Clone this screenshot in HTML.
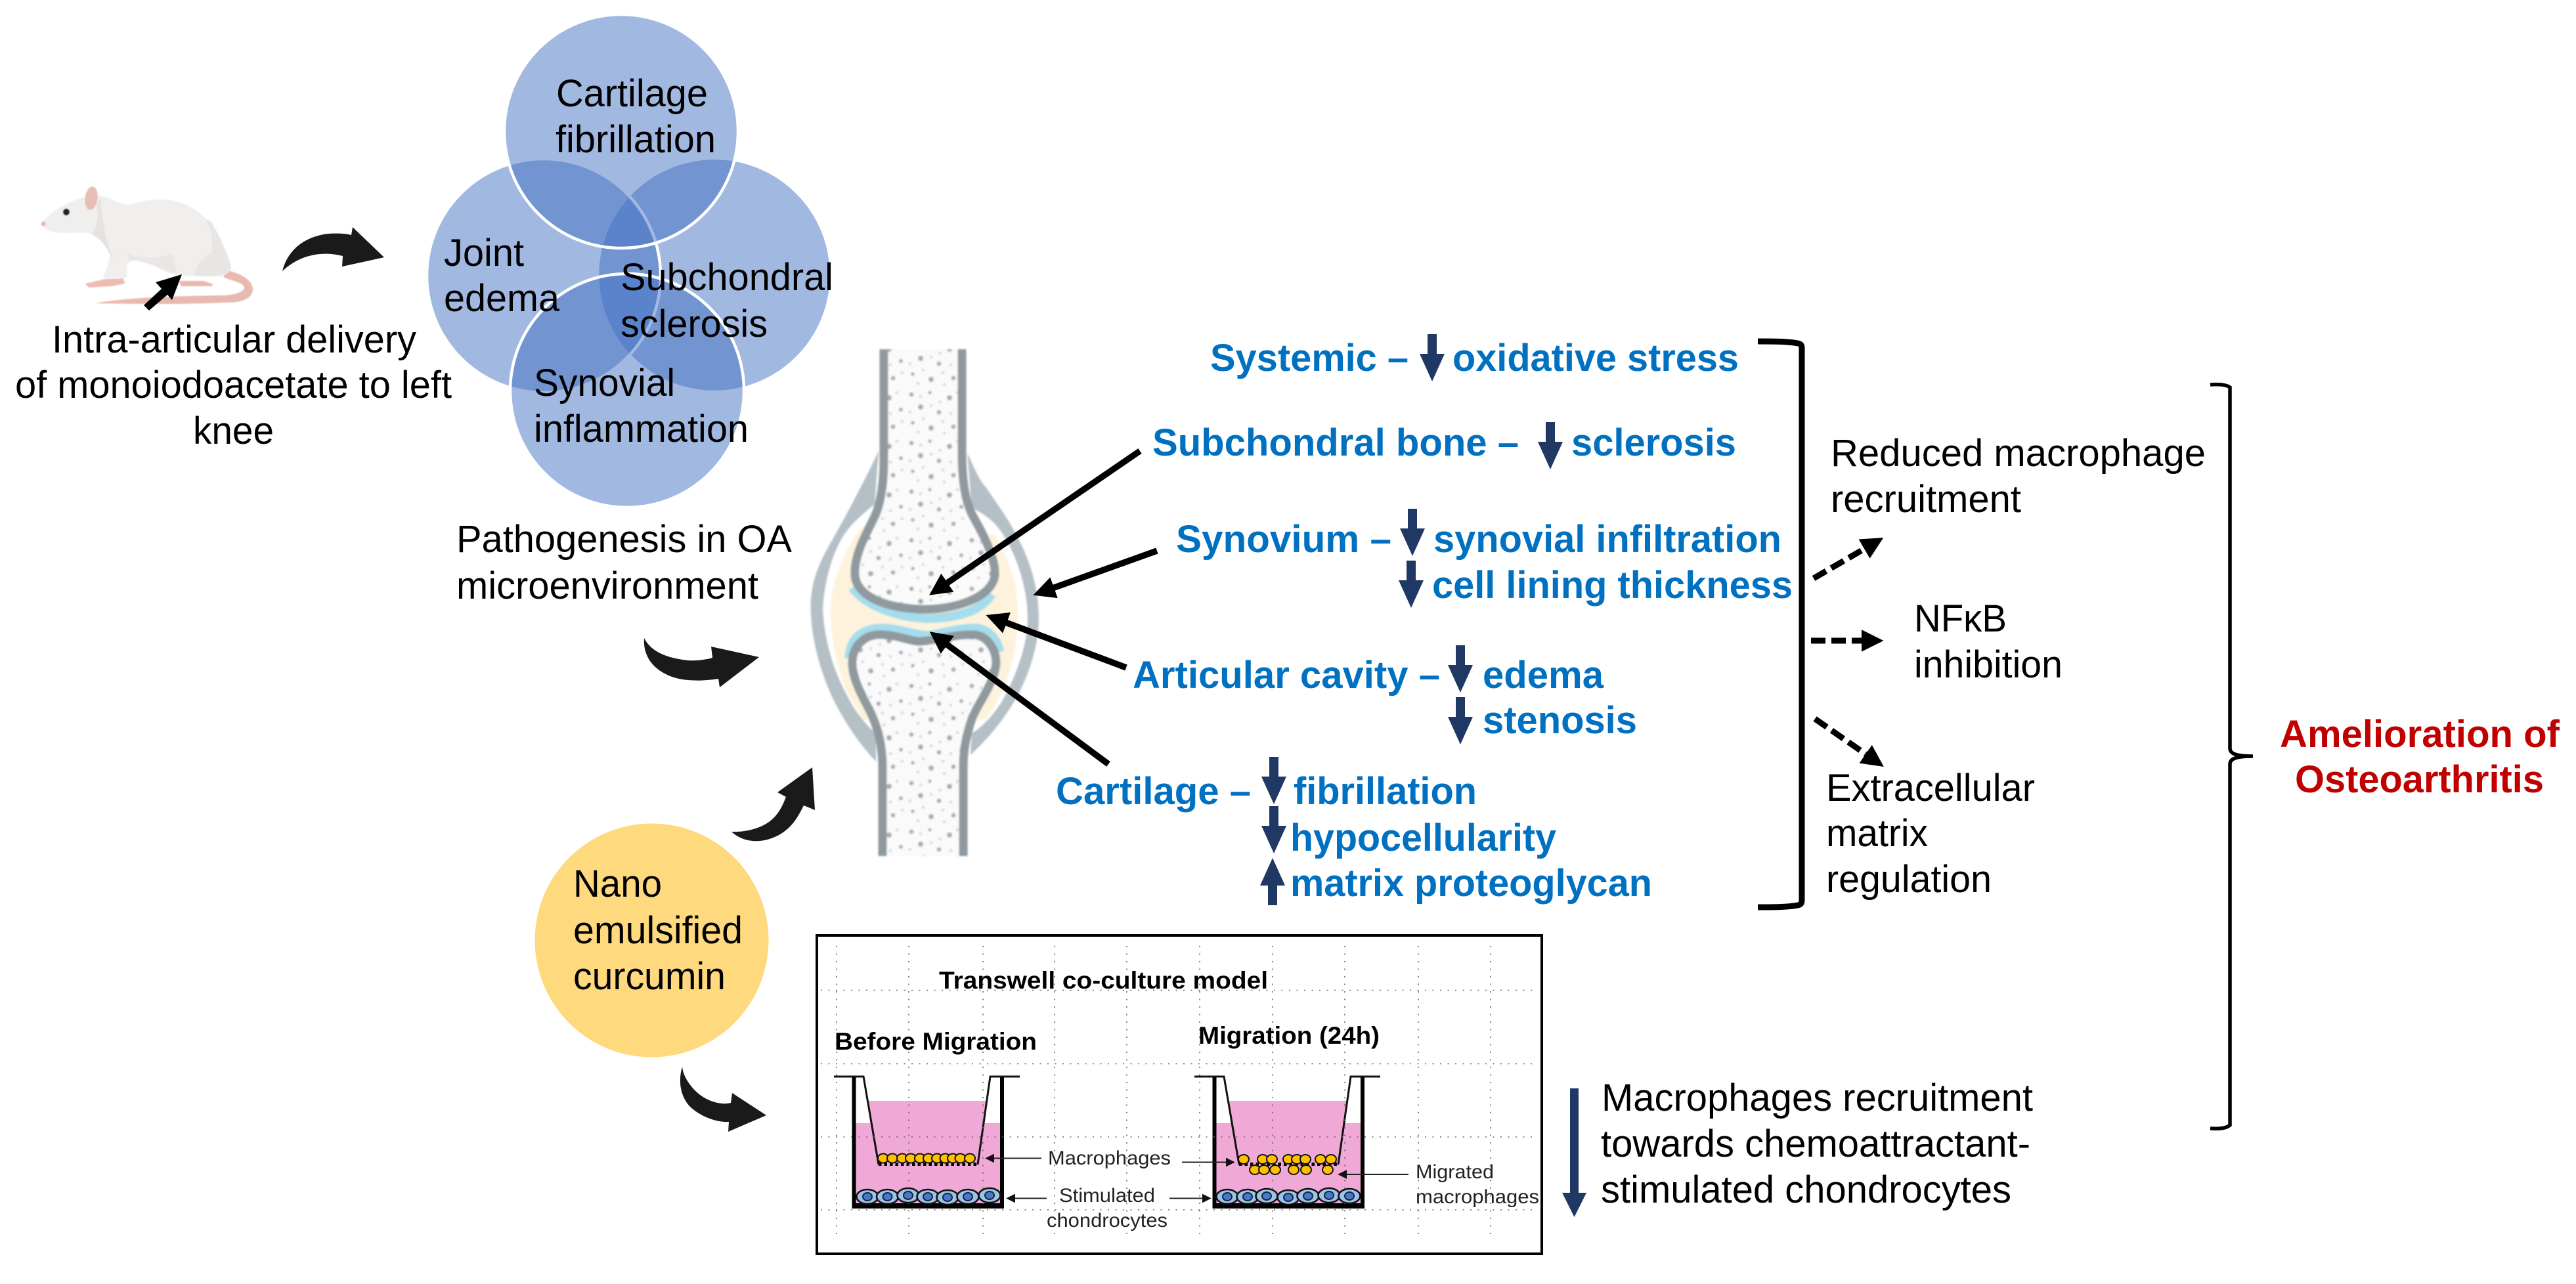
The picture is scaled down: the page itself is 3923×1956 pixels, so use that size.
<!DOCTYPE html>
<html>
<head>
<meta charset="utf-8">
<title>Amelioration of Osteoarthritis</title>
<style>
html,body{margin:0;padding:0;background:#fff;}
svg{display:block;}
text{font-family:"Liberation Sans",Arial,sans-serif;}
.k{font-size:58px;fill:#000;}
.b{font-size:58px;font-weight:bold;fill:#0070C0;}
.r{font-size:58px;font-weight:bold;fill:#C00000;}
.s{font-size:30px;fill:#222;}
.t{font-size:37px;font-weight:bold;fill:#000;}
</style>
</head>
<body>
<svg xmlns="http://www.w3.org/2000/svg" width="3923" height="1956" viewBox="0 0 3923 1956">
<defs>
<marker id="h" markerUnits="userSpaceOnUse" markerWidth="36" markerHeight="36" refX="2" refY="15" orient="auto" viewBox="0 0 32 30"><path d="M0 0L30 15L0 30Z" fill="#000"/></marker>
<marker id="hs" markerUnits="userSpaceOnUse" markerWidth="14" markerHeight="14" refX="1" refY="6" orient="auto" viewBox="0 0 12 12"><path d="M0 0L12 6L0 12Z" fill="#111"/></marker>
<path id="da" d="M-7 0H7V30H19L0 72L-19 30H-7Z" fill="#1F3864"/>
<pattern id="sp" width="92" height="74" patternUnits="userSpaceOnUse">
<rect width="92" height="74" fill="#FAFAFB"/>
<g fill="#A9AEB0">
<circle cx="8" cy="9" r="3.4"/><circle cx="36" cy="6" r="2.6"/><circle cx="66" cy="14" r="4"/><circle cx="84" cy="32" r="3"/><circle cx="22" cy="28" r="4"/><circle cx="50" cy="36" r="3.4"/><circle cx="10" cy="52" r="2.8"/><circle cx="38" cy="60" r="4"/><circle cx="72" cy="58" r="3.4"/>
</g>
<g fill="#CDD0D2">
<circle cx="22" cy="12" r="2"/><circle cx="52" cy="20" r="2"/><circle cx="78" cy="6" r="2"/><circle cx="38" cy="26" r="2"/><circle cx="68" cy="38" r="2"/><circle cx="6" cy="36" r="2"/><circle cx="26" cy="46" r="2"/><circle cx="56" cy="50" r="2"/><circle cx="86" cy="50" r="2"/><circle cx="58" cy="68" r="2"/><circle cx="18" cy="66" r="2"/>
</g>
</pattern>
<filter id="bl" x="-5%" y="-5%" width="110%" height="110%"><feGaussianBlur stdDeviation="1.3"/></filter>
<filter id="bl2" x="-5%" y="-5%" width="110%" height="110%"><feGaussianBlur stdDeviation="0.8"/></filter>
<g id="well">
<rect x="1302" y="1711" width="223" height="125" fill="#F0A8D6"/>
<path d="M1322 1677H1503L1500 1711H1325Z" fill="#F0A8D6"/>
<path d="M1300.5 1640V1838H1526V1640" fill="none" stroke="#000" stroke-width="6"/>
<rect x="1299" y="1833" width="229" height="7" fill="#000"/>
<path d="M1270 1640H1315L1338 1774M1553 1640H1508L1489 1774" fill="none" stroke="#111" stroke-width="3"/>
<path d="M1338 1773.5H1489" stroke="#000" stroke-width="5" stroke-dasharray="4.5 4" fill="none"/>
</g>
<g id="c"><ellipse rx="16.5" ry="11" fill="#9DC3E6" stroke="#111" stroke-width="2.6"/><ellipse rx="7" ry="6" fill="#4A78C8" stroke="#14233f" stroke-width="2"/></g>
<ellipse id="m" rx="8" ry="7" fill="#FFC000" stroke="#111" stroke-width="2"/>
</defs>

<rect width="3923" height="1956" fill="#fff"/>

<!-- Rat -->
<g filter="url(#bl2)">
<path d="M347 412C372 418 386 430 385 442C382 458 365 461 340 461C280 464 210 463 145 462C200 452 280 451 340 450C360 449 372 444 372 438C371 430 352 428 340 422Z" fill="#E8B9AF"/>
<path d="M273 428H310L325 433L322 436H275Z" fill="#E8B9AF"/>
<path d="M130 432L160 425L188 424L190 432L170 436L135 438Z" fill="#EDBDB2"/>
<path d="M64 340C75 325 95 312 115 305C125 300 140 298 153 298C170 302 182 312 197 312C215 306 235 303 255 304C285 308 310 325 325 347C338 367 348 390 352 407C350 418 340 421 320 421L280 420C265 420 256 415 245 410C235 403 225 399 210 397C200 396 194 400 193 407L193 423L157 423C162 410 168 398 167 387C160 372 150 362 140 357C125 352 107 356 92 355C78 354 66 350 64 340Z" fill="#F1EEEE"/>
<path d="M322 338C336 362 348 390 352 407C350 418 340 421 320 421L296 420C300 405 302 395 322 385C325 365 322 350 312 333Z" fill="#E8E5E4"/>
<path d="M140 357C150 362 160 372 167 387L172 392C162 370 156 340 153 300L147 312C151 330 148 345 140 357Z" fill="#E5E2E1"/>
<path d="M195 385C215 395 245 395 262 385L270 418L250 412C230 402 215 397 195 396Z" fill="#E9E6E5"/>
<ellipse cx="139" cy="302" rx="9.5" ry="18" fill="#E8BDB5" transform="rotate(8 139 302)"/>
<circle cx="101" cy="323" r="5.2" fill="#222"/>
<circle cx="66" cy="341" r="3.5" fill="#E9B5AC"/>
</g>
<path d="M277 418L262 457L255 449L227 473L219 465L246 440L237 430Z" fill="#000"/>

<!-- Swooshes -->
<g fill="#1A1A1A">
<path d="M430 413C438 380 465 360 500 356C515 355 528 356 535 358L537 346L585 392L521 406L522 390C495 383 460 385 430 413Z"/>
<path d="M981 972C990 990 1010 1002 1048 1006C1060 1007 1075 1005 1085 1002L1083 985L1156 1001L1096 1047L1094 1034C1075 1037 1060 1037 1048 1036C1010 1033 978 1010 981 972Z"/>
<path d="M1114 1267C1135 1268 1165 1262 1181 1243C1190 1232 1193 1224 1197 1214L1184 1207L1237 1169L1241 1234L1224 1227C1215 1245 1205 1264 1180 1275C1155 1286 1130 1282 1114 1267Z"/>
<path d="M1039 1625C1040 1640 1055 1665 1080 1676C1095 1682 1105 1682 1113 1680L1115 1665L1167 1699L1109 1724L1110 1709C1090 1710 1065 1700 1050 1685C1035 1668 1033 1645 1039 1625Z"/>
</g>

<!-- Venn circles -->
<g stroke="#fff" stroke-width="4.5">
<circle cx="1088" cy="419" r="178" fill="#4472C4" fill-opacity=".5"/>
<circle cx="828" cy="420" r="178" fill="#4472C4" fill-opacity=".5"/>
<circle cx="946" cy="200" r="178" fill="#4472C4" fill-opacity=".5"/>
<circle cx="955" cy="595" r="178" fill="#4472C4" fill-opacity=".5"/>
</g>

<!-- Nano circle -->
<circle cx="992.5" cy="1432.5" r="178" fill="#FFD97D"/>

<!-- Joint -->
<g filter="url(#bl)">
<path d="M1310 805C1280 850 1265 890 1265 930C1265 975 1275 1020 1290 1055L1315 1097H1500C1530 1060 1550 1000 1550 935C1550 885 1535 850 1515 815Z" fill="#FDF3DD"/>
<g fill="#B4BFC6">
<path d="M1338 687C1325 715 1300 765 1265 827C1240 870 1233 900 1235 935C1237 985 1255 1040 1275 1077C1290 1105 1310 1135 1334 1160L1334 1118C1315 1100 1300 1080 1292 1063C1270 1025 1255 975 1253 927C1255 890 1265 850 1282 820C1295 798 1312 785 1332 768Z"/>
<path d="M1473 690C1485 715 1490 730 1502 743C1520 770 1535 790 1545 810C1565 845 1582 890 1582 943C1582 985 1565 1035 1542 1073C1525 1100 1505 1125 1478 1150L1480 1117C1500 1105 1515 1085 1525 1070C1545 1035 1565 985 1565 943C1565 890 1545 840 1525 810C1510 790 1500 785 1480 773Z"/>
</g>
<path d="M1298 895C1320 925 1370 940 1410 942C1460 942 1495 930 1510 905" fill="none" stroke="#A6DDEC" stroke-width="14"/>
<path d="M1293 1003C1295 970 1315 957 1345 957C1370 958 1395 968 1412 968C1430 968 1450 957 1485 957C1505 958 1520 975 1522 993" fill="none" stroke="#A6DDEC" stroke-width="14"/>
<path d="M1346 532V700C1346 735 1342 760 1335 780C1325 805 1300 840 1302 877C1305 905 1340 925 1400 928C1450 930 1510 912 1515 877C1517 850 1495 810 1482 787C1470 765 1466 735 1465 700V532Z" fill="url(#sp)"/>
<path d="M1346 532V700C1346 735 1342 760 1335 780C1325 805 1300 840 1302 877C1305 905 1340 925 1400 928C1450 930 1510 912 1515 877C1517 850 1495 810 1482 787C1470 765 1466 735 1465 700V532" fill="none" stroke="#8F999E" stroke-width="13"/>
<path d="M1344 1304V1170C1344 1130 1335 1100 1318 1070C1305 1045 1297 1025 1298 1007C1300 980 1320 965 1345 967C1370 968 1385 977 1400 977C1420 977 1450 966 1485 967C1505 970 1517 990 1517 1010C1515 1040 1490 1070 1480 1095C1470 1125 1467 1145 1467 1170V1304Z" fill="url(#sp)"/>
<path d="M1344 1304V1170C1344 1130 1335 1100 1318 1070C1305 1045 1297 1025 1298 1007C1300 980 1320 965 1345 967C1370 968 1385 977 1400 977C1420 977 1450 966 1485 967C1505 970 1517 990 1517 1010C1515 1040 1490 1070 1480 1095C1470 1125 1467 1145 1467 1170V1304" fill="none" stroke="#8F999E" stroke-width="13"/>
</g>

<!-- Pointer arrows -->
<g stroke="#000" stroke-width="9.5" fill="none">
<path d="M1736 687L1441 889" marker-end="url(#h)"/>
<path d="M1762 839L1603 896" marker-end="url(#h)"/>
<path d="M1715 1017L1531 948" marker-end="url(#h)"/>
<path d="M1688 1164L1441 981" marker-end="url(#h)"/>
</g>

<!-- Dark-blue arrows -->
<use href="#da" transform="translate(2181 509)"/>
<use href="#da" transform="translate(2361 643)"/>
<use href="#da" transform="translate(2151 775)"/>
<use href="#da" transform="translate(2149 854)"/>
<use href="#da" transform="translate(2224 983)"/>
<use href="#da" transform="translate(2224 1062)"/>
<use href="#da" transform="translate(1940 1153)"/>
<use href="#da" transform="translate(1940 1228)"/>
<use href="#da" transform="translate(1938 1379) scale(1 -1)"/>
<path d="M2391 1658H2404V1817H2416L2397.5 1854L2379 1817H2391Z" fill="#1F3864"/>

<!-- Brackets -->
<path d="M2677 520C2700 520 2722 520 2738 523C2743 524 2744 526 2744 531V1370C2744 1376 2743 1378 2738 1379C2722 1382 2700 1382 2677 1382" fill="none" stroke="#000" stroke-width="9"/>
<path d="M3366 586C3380 585 3390 586 3396 590V1140C3396 1148 3405 1152 3431 1152C3405 1152 3396 1156 3396 1164V1714C3390 1719 3380 1720 3366 1719" fill="none" stroke="#000" stroke-width="5.5"/>

<!-- Dashed arrows -->
<g stroke="#000" stroke-width="9" fill="none" stroke-dasharray="22 9">
<path d="M2762 881L2841 835" marker-end="url(#h)"/>
<path d="M2758 976L2837 976" marker-end="url(#h)"/>
<path d="M2764 1095L2843 1150" marker-end="url(#h)"/>
</g>

<!-- Black text -->
<text class="k" x="79" y="537" textLength="555" lengthAdjust="spacingAndGlyphs">Intra-articular delivery</text>
<text class="k" x="23" y="606" textLength="665" lengthAdjust="spacingAndGlyphs">of monoiodoacetate to left</text>
<text class="k" x="294" y="676" textLength="123" lengthAdjust="spacingAndGlyphs">knee</text>
<text class="k" x="847" y="162" textLength="231" lengthAdjust="spacingAndGlyphs">Cartilage</text>
<text class="k" x="846" y="232" textLength="244" lengthAdjust="spacingAndGlyphs">fibrillation</text>
<text class="k" x="676" y="405" textLength="122" lengthAdjust="spacingAndGlyphs">Joint</text>
<text class="k" x="676" y="474" textLength="176" lengthAdjust="spacingAndGlyphs">edema</text>
<text class="k" x="945" y="442" textLength="324" lengthAdjust="spacingAndGlyphs">Subchondral</text>
<text class="k" x="945" y="513" textLength="224" lengthAdjust="spacingAndGlyphs">sclerosis</text>
<text class="k" x="813" y="603" textLength="215" lengthAdjust="spacingAndGlyphs">Synovial</text>
<text class="k" x="813" y="673" textLength="327" lengthAdjust="spacingAndGlyphs">inflammation</text>
<text class="k" x="695" y="841" textLength="511" lengthAdjust="spacingAndGlyphs">Pathogenesis in OA</text>
<text class="k" x="695" y="912" textLength="460" lengthAdjust="spacingAndGlyphs">microenvironment</text>
<text class="k" x="873" y="1366" textLength="135" lengthAdjust="spacingAndGlyphs">Nano</text>
<text class="k" x="873" y="1437" textLength="258" lengthAdjust="spacingAndGlyphs">emulsified</text>
<text class="k" x="873" y="1507" textLength="232" lengthAdjust="spacingAndGlyphs">curcumin</text>
<text class="k" x="2788" y="710" textLength="571" lengthAdjust="spacingAndGlyphs">Reduced macrophage</text>
<text class="k" x="2788" y="780" textLength="290" lengthAdjust="spacingAndGlyphs">recruitment</text>
<text class="k" x="2915" y="962" textLength="141" lengthAdjust="spacingAndGlyphs">NFκB</text>
<text class="k" x="2915" y="1032" textLength="226" lengthAdjust="spacingAndGlyphs">inhibition</text>
<text class="k" x="2781" y="1220" textLength="318" lengthAdjust="spacingAndGlyphs">Extracellular</text>
<text class="k" x="2781" y="1289" textLength="155" lengthAdjust="spacingAndGlyphs">matrix</text>
<text class="k" x="2781" y="1359" textLength="252" lengthAdjust="spacingAndGlyphs">regulation</text>
<text class="k" x="2439" y="1692" textLength="657" lengthAdjust="spacingAndGlyphs">Macrophages recruitment</text>
<text class="k" x="2438" y="1762" textLength="654" lengthAdjust="spacingAndGlyphs">towards chemoattractant-</text>
<text class="k" x="2438" y="1832" textLength="625" lengthAdjust="spacingAndGlyphs">stimulated chondrocytes</text>

<!-- Blue text -->
<text class="b" x="1843" y="565" textLength="302" lengthAdjust="spacingAndGlyphs">Systemic –</text>
<text class="b" x="2212" y="565" textLength="436" lengthAdjust="spacingAndGlyphs">oxidative stress</text>
<text class="b" x="1755" y="694" textLength="558" lengthAdjust="spacingAndGlyphs">Subchondral bone –</text>
<text class="b" x="2393" y="694" textLength="251" lengthAdjust="spacingAndGlyphs">sclerosis</text>
<text class="b" x="1791" y="841" textLength="328" lengthAdjust="spacingAndGlyphs">Synovium –</text>
<text class="b" x="2183" y="841" textLength="530" lengthAdjust="spacingAndGlyphs">synovial infiltration</text>
<text class="b" x="2181" y="911" textLength="549" lengthAdjust="spacingAndGlyphs">cell lining thickness</text>
<text class="b" x="1725" y="1048" textLength="468" lengthAdjust="spacingAndGlyphs">Articular cavity –</text>
<text class="b" x="2258" y="1048" textLength="184" lengthAdjust="spacingAndGlyphs">edema</text>
<text class="b" x="2258" y="1117" textLength="235" lengthAdjust="spacingAndGlyphs">stenosis</text>
<text class="b" x="1608" y="1225" textLength="297" lengthAdjust="spacingAndGlyphs">Cartilage –</text>
<text class="b" x="1970" y="1225" textLength="279" lengthAdjust="spacingAndGlyphs">fibrillation</text>
<text class="b" x="1965" y="1296" textLength="405" lengthAdjust="spacingAndGlyphs">hypocellularity</text>
<text class="b" x="1965" y="1365" textLength="551" lengthAdjust="spacingAndGlyphs">matrix proteoglycan</text>

<!-- Red text -->
<text class="r" x="3472" y="1138" textLength="426" lengthAdjust="spacingAndGlyphs">Amelioration of</text>
<text class="r" x="3495" y="1207" textLength="379" lengthAdjust="spacingAndGlyphs">Osteoarthritis</text>

<!-- Transwell box -->
<rect x="1244" y="1425" width="1104" height="485" fill="#fff" stroke="#000" stroke-width="4"/>
<use href="#well"/>
<use href="#well" transform="translate(549 0)"/>
<g stroke="#666" stroke-width="1.6" stroke-dasharray="2 9.5" fill="none">
<path d="M1274 1441V1888M1384 1441V1888M1497 1441V1888M1606 1441V1888M1716 1441V1888M1827 1441V1888M1938 1441V1888M2048 1441V1888M2160 1441V1888M2270 1441V1888"/>
<path d="M1250 1508.5H2340M1250 1620.5H2340M1250 1732H2340M1250 1843H2340"/>
</g>

<use href="#m" x="1345" y="1764.5"/><use href="#m" x="1359" y="1764.5"/><use href="#m" x="1374" y="1764.5"/><use href="#m" x="1387" y="1764.5"/><use href="#m" x="1401" y="1764.5"/><use href="#m" x="1414" y="1764.5"/><use href="#m" x="1427" y="1764.5"/><use href="#m" x="1439.5" y="1764.5"/><use href="#m" x="1451" y="1764.5"/><use href="#m" x="1462.5" y="1764.5"/><use href="#m" x="1477" y="1764.5"/>
<use href="#m" x="1894" y="1766"/><use href="#m" x="1923" y="1766"/><use href="#m" x="1937" y="1766"/><use href="#m" x="1962" y="1766"/><use href="#m" x="1975" y="1766"/><use href="#m" x="1988" y="1766"/><use href="#m" x="2011" y="1766"/><use href="#m" x="2027" y="1766"/>
<use href="#m" x="1911" y="1782"/><use href="#m" x="1925" y="1782"/><use href="#m" x="1942" y="1782"/><use href="#m" x="1970" y="1782"/><use href="#m" x="1989" y="1782"/><use href="#m" x="2022" y="1782"/>

<use href="#c" x="1321" y="1823"/><use href="#c" x="1351.5" y="1823"/><use href="#c" x="1383" y="1821"/><use href="#c" x="1413" y="1823"/><use href="#c" x="1443" y="1824"/><use href="#c" x="1474" y="1823"/><use href="#c" x="1507" y="1821"/>
<use href="#c" x="1869" y="1823"/><use href="#c" x="1900" y="1823"/><use href="#c" x="1929" y="1822"/><use href="#c" x="1962" y="1824"/><use href="#c" x="1992" y="1822"/><use href="#c" x="2024" y="1821"/><use href="#c" x="2055" y="1822"/>

<g stroke="#222" stroke-width="2" fill="none">
<path d="M1586 1764.5H1513" marker-end="url(#hs)"/>
<path d="M1800 1770.5H1868" marker-end="url(#hs)"/>
<path d="M1594 1825.5H1545" marker-end="url(#hs)"/>
<path d="M1781 1825.5H1832" marker-end="url(#hs)"/>
<path d="M2145 1789H2050" marker-end="url(#hs)"/>
</g>

<text class="t" x="1430" y="1506" textLength="501" lengthAdjust="spacingAndGlyphs">Transwell co-culture model</text>
<text class="t" x="1271" y="1599" textLength="308" lengthAdjust="spacingAndGlyphs">Before Migration</text>
<text class="t" x="1825" y="1590" textLength="276" lengthAdjust="spacingAndGlyphs">Migration (24h)</text>
<text class="s" x="1596" y="1774" textLength="187" lengthAdjust="spacingAndGlyphs">Macrophages</text>
<text class="s" x="1613" y="1831" textLength="146" lengthAdjust="spacingAndGlyphs">Stimulated</text>
<text class="s" x="1594" y="1869" textLength="184" lengthAdjust="spacingAndGlyphs">chondrocytes</text>
<text class="s" x="2156" y="1795" textLength="119" lengthAdjust="spacingAndGlyphs">Migrated</text>
<text class="s" x="2156" y="1833" textLength="188" lengthAdjust="spacingAndGlyphs">macrophages</text>
</svg>
</body>
</html>
